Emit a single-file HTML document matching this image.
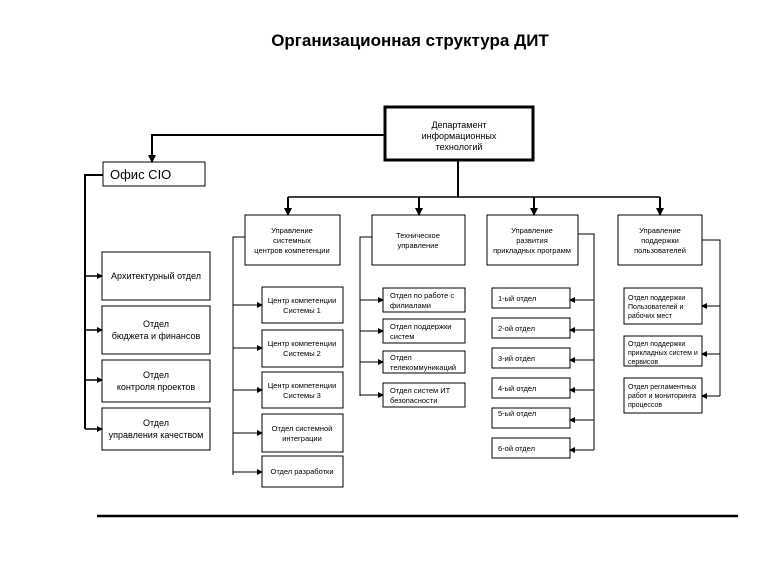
<!DOCTYPE html>
<html><head><meta charset="utf-8"><style>
body{margin:0;background:#fff}
svg text{font-family:"Liberation Sans",sans-serif;fill:#000}
</style></head><body>
<svg width="765" height="567" viewBox="0 0 765 567" xmlns="http://www.w3.org/2000/svg">
<defs>
<marker id="a" markerWidth="6" markerHeight="6" refX="5" refY="3" orient="auto" markerUnits="userSpaceOnUse"><path d="M0,0 L6,3 L0,6 z" fill="#000"/></marker>
<marker id="b" markerWidth="8" markerHeight="8" refX="7" refY="4" orient="auto" markerUnits="userSpaceOnUse"><path d="M0,0 L8,4 L0,8 z" fill="#000"/></marker>
</defs>
<text x="410" y="46" font-size="17" font-weight="bold" text-anchor="middle">Организационная структура ДИТ</text>

<g fill="none" stroke="#000">
<rect x="385" y="107" width="148" height="53" stroke-width="3"/>
<path d="M385,135 H152 V162" stroke-width="2" marker-end="url(#b)"/>
<rect x="103" y="162" width="102" height="24" stroke-width="1"/>
<path d="M103,175 H85 V429" stroke-width="2"/>
<path d="M85,276 H102" stroke-width="1.5" marker-end="url(#a)"/>
<path d="M85,330 H102" stroke-width="1.5" marker-end="url(#a)"/>
<path d="M85,380 H102" stroke-width="1.5" marker-end="url(#a)"/>
<path d="M85,429 H102" stroke-width="1.5" marker-end="url(#a)"/>
<rect x="102" y="252" width="108" height="48"/>
<rect x="102" y="306" width="108" height="48"/>
<rect x="102" y="360" width="108" height="42"/>
<rect x="102" y="408" width="108" height="42"/>

<path d="M458,160 V197" stroke-width="2"/>
<path d="M288,197 H660" stroke-width="1.5"/>
<path d="M288,197 V215" stroke-width="2" marker-end="url(#b)"/>
<path d="M419,197 V215" stroke-width="2" marker-end="url(#b)"/>
<path d="M534,197 V215" stroke-width="2" marker-end="url(#b)"/>
<path d="M660,197 V215" stroke-width="2" marker-end="url(#b)"/>
<rect x="245" y="215" width="95" height="50"/>
<rect x="372" y="215" width="93" height="50"/>
<rect x="487" y="215" width="91" height="50"/>
<rect x="618" y="215" width="84" height="50"/>

<path d="M245,237 H233 V475"/>
<path d="M233,305 H262" marker-end="url(#a)"/>
<path d="M233,348 H262" marker-end="url(#a)"/>
<path d="M233,390 H262" marker-end="url(#a)"/>
<path d="M233,433 H262" marker-end="url(#a)"/>
<path d="M233,472 H262" marker-end="url(#a)"/>
<rect x="262" y="287" width="81" height="36"/>
<rect x="262" y="330" width="81" height="37"/>
<rect x="262" y="372" width="81" height="36"/>
<rect x="262" y="414" width="81" height="38"/>
<rect x="262" y="456" width="81" height="31"/>

<path d="M372,237 H360 V396"/>
<path d="M360,300 H383" marker-end="url(#a)"/>
<path d="M360,331 H383" marker-end="url(#a)"/>
<path d="M360,362 H383" marker-end="url(#a)"/>
<path d="M360,395 H383" marker-end="url(#a)"/>
<rect x="383" y="288" width="82" height="24"/>
<rect x="383" y="319" width="82" height="24"/>
<rect x="383" y="351" width="82" height="22"/>
<rect x="383" y="383" width="82" height="24"/>

<path d="M578,234 H594 V450"/>
<path d="M594,300 H570" marker-end="url(#a)"/>
<path d="M594,330 H570" marker-end="url(#a)"/>
<path d="M594,360 H570" marker-end="url(#a)"/>
<path d="M594,390 H570" marker-end="url(#a)"/>
<path d="M594,420 H570" marker-end="url(#a)"/>
<path d="M594,450 H570" marker-end="url(#a)"/>
<rect x="492" y="288" width="78" height="20"/>
<rect x="492" y="318" width="78" height="20"/>
<rect x="492" y="348" width="78" height="20"/>
<rect x="492" y="378" width="78" height="20"/>
<rect x="492" y="408" width="78" height="20"/>
<rect x="492" y="438" width="78" height="20"/>

<path d="M702,240 H720 V396"/>
<path d="M720,306 H702" marker-end="url(#a)"/>
<path d="M720,354 H702" marker-end="url(#a)"/>
<path d="M720,396 H702" marker-end="url(#a)"/>
<rect x="624" y="288" width="78" height="36"/>
<rect x="624" y="336" width="78" height="30"/>
<rect x="624" y="378" width="78" height="35"/>

<path d="M97,516 H738" stroke-width="2.5"/>
</g>

<g font-size="9" text-anchor="middle">
<text x="459" y="128">Департамент</text>
<text x="459" y="139">информационных</text>
<text x="459" y="150">технологий</text>
</g>
<text x="110" y="179" font-size="13">Офис CIO</text>
<g font-size="9" text-anchor="middle">
<text x="156" y="279">Архитектурный отдел</text>
<text x="156" y="327">Отдел</text><text x="156" y="339">бюджета и финансов</text>
<text x="156" y="378">Отдел</text><text x="156" y="390">контроля проектов</text>
<text x="156" y="426">Отдел</text><text x="156" y="438">управления качеством</text>
</g>
<g font-size="7.5" text-anchor="middle">
<text x="292" y="233">Управление</text><text x="292" y="243">системных</text><text x="292" y="253">центров компетенции</text>
<text x="418" y="238">Техническое</text><text x="418" y="248">управление</text>
<text x="532" y="233">Управление</text><text x="532" y="243">развития</text><text x="532" y="253">прикладных программ</text>
<text x="660" y="233">Управление</text><text x="660" y="243">поддержки</text><text x="660" y="253">пользователей</text>
<text x="302" y="303">Центр компетенции</text><text x="302" y="313">Системы 1</text>
<text x="302" y="346">Центр компетенции</text><text x="302" y="356">Системы 2</text>
<text x="302" y="388">Центр компетенции</text><text x="302" y="398">Системы 3</text>
<text x="302" y="431">Отдел системной</text><text x="302" y="441">интеграции</text>
<text x="302" y="474">Отдел разработки</text>
</g>
<g font-size="7.5">
<text x="390" y="298">Отдел по работе с</text><text x="390" y="308">филиалами</text>
<text x="390" y="329">Отдел поддержки</text><text x="390" y="339">систем</text>
<text x="390" y="360">Отдел</text><text x="390" y="370">телекоммуникаций</text>
<text x="390" y="393">Отдел систем ИТ</text><text x="390" y="403">безопасности</text>
<text x="498" y="301">1-ый отдел</text>
<text x="498" y="331">2-ой отдел</text>
<text x="498" y="361">3-ий отдел</text>
<text x="498" y="391">4-ый отдел</text>
<text x="498" y="416">5-ый отдел</text>
<text x="498" y="451">6-ой отдел</text>
</g>
<g font-size="7">
<text x="628" y="300">Отдел поддержки</text><text x="628" y="309">Пользователей и</text><text x="628" y="318">рабочих мест</text>
<text x="628" y="346">Отдел поддержки</text><text x="628" y="355">прикладных систем и</text><text x="628" y="364">сервисов</text>
<text x="628" y="389">Отдел регламентных</text><text x="628" y="398">работ и мониторинга</text><text x="628" y="407">процессов</text>
</g>
</svg>
</body></html>
